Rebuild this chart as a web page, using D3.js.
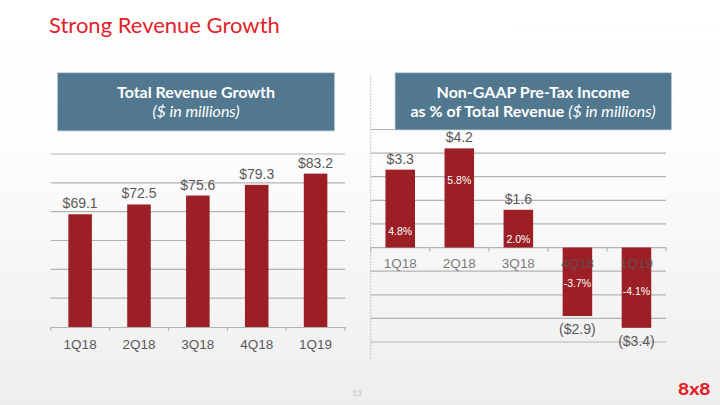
<!DOCTYPE html>
<html><head><meta charset="utf-8">
<script src="https://cdn.jsdelivr.net/npm/d3@7"></script>
<style>html,body{margin:0;padding:0;overflow:hidden;}svg{display:block;}</style>
</head><body>
<svg id="c" width="720" height="405"></svg>
<script>
// ---- data ----
const quarters = ["1Q18", "2Q18", "3Q18", "4Q18", "1Q19"];
const revenue = [69.1, 72.5, 75.6, 79.3, 83.2];
const revenueLabels = ["$69.1", "$72.5", "$75.6", "$79.3", "$83.2"];
const revenueTicks = [30, 40, 50, 60, 70, 80, 90];
const pretaxIncome = [3.3, 4.2, 1.6, -2.9, -3.4];
const pretaxLabels = ["$3.3", "$4.2", "$1.6", "($2.9)", "($3.4)"];
const pretaxPct = ["4.8%", "5.8%", "2.0%", "-3.7%", "-4.1%"];
const pretaxTicks = [-4, -3, -2, -1, 0, 1, 2, 3, 4, 5];

// ---- layout ----
const pctLabelAt = [0.72, 2.87, 0.37, -1.5, -1.83]; // y position (in value units) of % labels
const BAR = "#9b1f24", BOX = "#52788f", GRID = "#b3b3b3", TXT = "#595959";
const svg = d3.select("#c");
const defs = svg.append("defs");
const g = defs.append("linearGradient").attr("id", "bg").attr("x1", 0).attr("y1", 0).attr("x2", 0).attr("y2", 1);
g.append("stop").attr("offset", "0%").attr("stop-color", "#ffffff");
g.append("stop").attr("offset", "35%").attr("stop-color", "#fdfdfd");
g.append("stop").attr("offset", "100%").attr("stop-color", "#eeeeee");
svg.append("rect").attr("width", 720).attr("height", 405).attr("fill", "url(#bg)");

svg.append("text").attr("x", 49).attr("y", 33).attr("fill", "#e3222a")
  .attr("font-family", "Lato").attr("font-size", 22).text("Strong Revenue Growth");

// ---- left chart ----
const xL = d3.scaleBand().domain(quarters).range([50.7, 345]).paddingInner(0.6).paddingOuter(0.3);
const yL = d3.scaleLinear().domain([30, 90]).range([327, 154]);
const L = svg.append("g");
L.append("g").selectAll("line").data(revenueTicks.slice(1)).join("line")
  .attr("x1", 50.7).attr("x2", 345).attr("y1", d => yL(d)).attr("y2", d => yL(d))
  .attr("stroke", GRID).attr("stroke-width", 1.2);
const axL = L.append("g").attr("transform", `translate(0,${yL(30)})`)
  .call(d3.axisBottom(xL).tickSize(0).tickPadding(12));
axL.select(".domain").attr("stroke", GRID).attr("stroke-width", 1.2);
axL.selectAll("text").attr("font-family", "Liberation Sans").attr("font-size", 13.5).attr("fill", TXT);
L.append("g").selectAll("line").data(d3.range(6)).join("line")
  .attr("x1", i => 50.7 + i * (294.3 / 5)).attr("x2", i => 50.7 + i * (294.3 / 5))
  .attr("y1", yL(30)).attr("y2", yL(30) + 4).attr("stroke", GRID).attr("stroke-width", 1.2);
L.append("g").selectAll("rect").data(revenue).join("rect")
  .attr("x", (d, i) => xL(quarters[i])).attr("width", xL.bandwidth())
  .attr("y", d => yL(d)).attr("height", d => yL(30) - yL(d)).attr("fill", BAR);
L.append("g").selectAll("text").data(revenue).join("text")
  .attr("x", (d, i) => xL(quarters[i]) + xL.bandwidth() / 2).attr("y", d => yL(d) - 6)
  .attr("text-anchor", "middle").attr("font-family", "Liberation Sans").attr("font-size", 14)
  .attr("fill", TXT).text((d, i) => revenueLabels[i]);

// left title box
svg.append("rect").attr("x", 57.3).attr("y", 72.7).attr("width", 277.4).attr("height", 58.3)
  .attr("fill", BOX).attr("stroke", "#c9d6df").attr("stroke-width", 0.8);
svg.append("text").attr("x", 196).attr("y", 98).attr("text-anchor", "middle").attr("fill", "#fff")
  .attr("font-family", "Lato").attr("font-weight", "bold").attr("font-size", 16).text("Total Revenue Growth");
svg.append("text").attr("x", 196).attr("y", 117).attr("text-anchor", "middle").attr("fill", "#fff")
  .attr("font-family", "Lato").attr("font-style", "italic").attr("font-size", 16).text("($ in millions)");

// ---- right chart ----
const xR = d3.scaleBand().domain(quarters).range([370.7, 666]).paddingInner(0.5).paddingOuter(0.25);
const yR = d3.scaleLinear().domain([-4, 5]).range([342, 129.5]);
const R = svg.append("g");
R.append("line").attr("x1", 370.7).attr("x2", 370.7).attr("y1", 75).attr("y2", 360)
  .attr("stroke", "#b8b8b8").attr("stroke-width", 1).attr("stroke-dasharray", "1.5,1.5");
R.append("g").selectAll("line").data(pretaxTicks).join("line")
  .attr("x1", 370.7).attr("x2", 666).attr("y1", d => yR(d)).attr("y2", d => yR(d))
  .attr("stroke", GRID).attr("stroke-width", 1.2);
R.append("g").selectAll("line").data(d3.range(6)).join("line")
  .attr("x1", i => 370.7 + i * (295.3 / 5)).attr("x2", i => 370.7 + i * (295.3 / 5))
  .attr("y1", yR(0)).attr("y2", yR(0) + 4).attr("stroke", GRID).attr("stroke-width", 1.2);
R.append("g").selectAll("rect").data(pretaxIncome).join("rect")
  .attr("x", (d, i) => xR(quarters[i])).attr("width", xR.bandwidth())
  .attr("y", d => yR(Math.max(0, d))).attr("height", d => Math.abs(yR(d) - yR(0))).attr("fill", BAR);
const axR = R.append("g").attr("transform", `translate(0,${yR(0)})`)
  .call(d3.axisBottom(xR).tickSize(0).tickPadding(11));
axR.select(".domain").remove();
axR.selectAll("text").attr("font-family", "Liberation Sans").attr("font-size", 13.5)
  .attr("fill", TXT).attr("fill-opacity", 0.8);
R.append("g").selectAll("text").data(pretaxIncome).join("text")
  .attr("x", (d, i) => xR(quarters[i]) + xR.bandwidth() / 2)
  .attr("y", d => d >= 0 ? yR(d) - 6 : yR(d) + 18)
  .attr("text-anchor", "middle").attr("font-family", "Liberation Sans").attr("font-size", 14)
  .attr("fill", TXT).text((d, i) => pretaxLabels[i]);
R.append("g").selectAll("text").data(pretaxPct).join("text")
  .attr("x", (d, i) => xR(quarters[i]) + xR.bandwidth() / 2)
  .attr("y", (d, i) => yR(pctLabelAt[i]) + 4)
  .attr("text-anchor", "middle").attr("font-family", "Liberation Sans").attr("font-size", 10.5)
  .attr("fill", "#fff").text(d => d);

// right title box
svg.append("rect").attr("x", 395).attr("y", 72.7).attr("width", 276.7).attr("height", 57.3)
  .attr("fill", BOX).attr("stroke", "#c9d6df").attr("stroke-width", 0.8);
svg.append("text").attr("x", 533).attr("y", 98).attr("text-anchor", "middle").attr("fill", "#fff")
  .attr("font-family", "Lato").attr("font-weight", "bold").attr("font-size", 16).text("Non-GAAP Pre-Tax Income");
const t2 = svg.append("text").attr("x", 533).attr("y", 116.5).attr("text-anchor", "middle").attr("fill", "#fff")
  .attr("font-family", "Lato").attr("font-size", 16);
t2.append("tspan").attr("font-weight", "bold").text("as % of Total Revenue ");
t2.append("tspan").attr("font-style", "italic").text("($ in millions)");

// footer
svg.append("text").attr("x", 357).attr("y", 396).attr("text-anchor", "middle").attr("fill", "#c4c4c4")
  .attr("font-family", "Lato").attr("font-size", 8).text("13");
svg.append("text").attr("x", 678).attr("y", 394.5).attr("fill", "#e3222a")
  .attr("font-family", "Lato").attr("font-weight", "900").attr("font-size", 17.5)
  .attr("textLength", 32.5).attr("lengthAdjust", "spacingAndGlyphs").text("8x8");
</script>
</body></html>
